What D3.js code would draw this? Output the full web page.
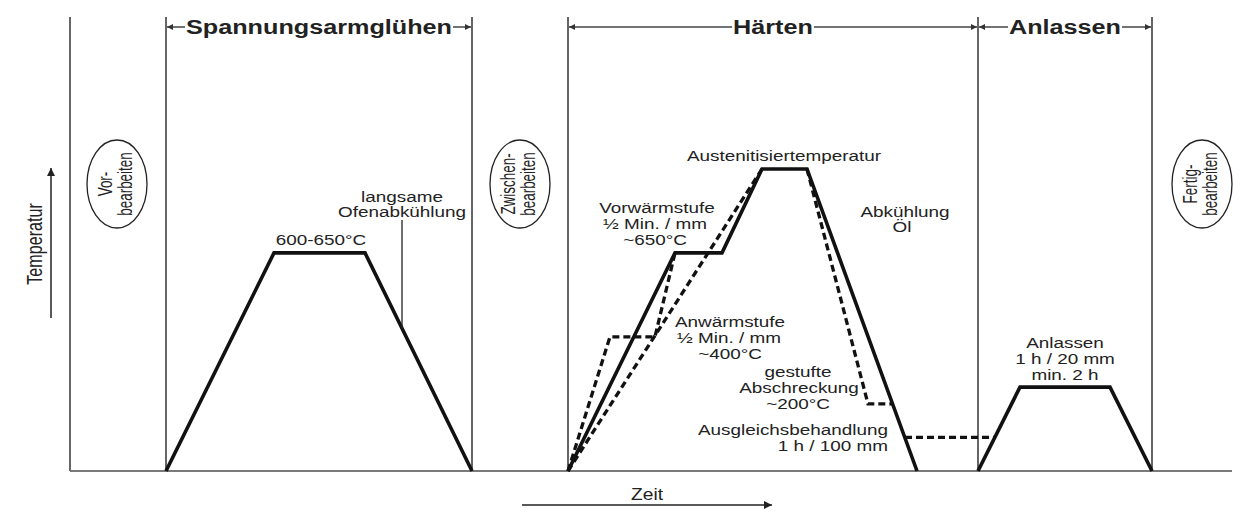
<!DOCTYPE html>
<html>
<head>
<meta charset="utf-8">
<script src="https://cdn.jsdelivr.net/npm/d3@7"></script>
<style>
  html, body { margin: 0; padding: 0; background: #fff; }
  svg { display: block; }
  text { font-family: "Liberation Sans", Arial, Helvetica, sans-serif; fill: #222; }
</style>
</head>
<body>
<svg id="chart" width="1257" height="530"></svg>
<script>
// ---------- data (time in arbitrary units, temperature in °C) ----------
const sectionBounds = [0, 96, 402, 498, 908, 1082];
const axisEnd = 1162;
const phaseNames = ["Spannungsarmglühen", "Härten", "Anlassen"];
const phaseStart = [96, 498, 908];
const phaseEnd = [402, 908, 1082];

const stressRelief = [[96, 0], [204, 650], [295, 650], [402, 0]];
const hardeningSolid = [[498, 0], [605, 650], [652, 650], [692, 900], [737, 900], [847, 0]];
const preheatDashed = [[498, 0], [540, 400], [585, 400], [605, 650]];
const directDashed = [[498, 0], [692, 900]];
const quenchDashed = [[737, 900], [798, 200], [822, 200]];
const equalizeDashed = [[835, 100], [925, 100]];
const tempering = [[908, 0], [950, 250], [1040, 250], [1082, 0]];
const leader = [[332, 748], [332, 425]];

const stepNames = [["Vor-", "bearbeiten"], ["Zwischen-", "bearbeiten"], ["Fertig-", "bearbeiten"]];
const stepTimes = [47, 450, 1132];

// ---------- layout ----------
const svg = d3.select("#chart");
const x = d3.scaleLinear().domain([0, axisEnd]).range([70, 1232]);
const y = d3.scaleLinear().domain([0, 900]).range([471, 169]);
const topY = 17;
const SX = 1.26;
const line = d3.line().x(d => x(d[0])).y(d => y(d[1]));

const defs = svg.append("defs");
function marker(id, color, w, h) {
  defs.append("marker").attr("id", id)
    .attr("viewBox", "0 0 10 10").attr("refX", 10).attr("refY", 5)
    .attr("markerWidth", w).attr("markerHeight", h)
    .attr("markerUnits", "userSpaceOnUse")
    .attr("orient", "auto-start-reverse")
    .append("path").attr("d", "M0,0 L10,5 L0,10 Z").attr("fill", color);
}
marker("arrHead", "#333", 9, 6);
marker("arrAxis", "#222", 10, 8);

// baseline
svg.append("line").attr("x1", x(0)).attr("x2", x(axisEnd))
  .attr("y1", y(0)).attr("y2", y(0))
  .attr("stroke", "#7a7a7a").attr("stroke-width", 2);

// section vertical lines
svg.selectAll("line.sec").data(sectionBounds).join("line").attr("class", "sec")
  .attr("x1", d => x(d)).attr("x2", d => x(d))
  .attr("y1", topY).attr("y2", y(0))
  .attr("stroke", "#666").attr("stroke-width", 2);

// helper for horizontally stretched text
function htext(str, px, py, size, opts = {}) {
  return svg.append("text")
    .attr("transform", `translate(${px},${py}) scale(${opts.sx || SX},1)`)
    .attr("text-anchor", opts.anchor || "middle")
    .attr("font-size", size)
    .attr("font-weight", opts.bold ? "bold" : "normal")
    .text(str);
}

// phase headers
const headY = 27;
phaseNames.forEach((name, i) => {
  const x0 = x(phaseStart[i]), x1 = x(phaseEnd[i]);
  const cx = (x0 + x1) / 2;
  const t = htext(name, cx, 34, 21, { bold: true, sx: 1.2 });
  const w = t.node().getBBox().width * 1.2;
  const pad = 1;
  svg.append("line").attr("x1", cx - w / 2 - pad).attr("x2", x0 + 1)
    .attr("y1", headY).attr("y2", headY)
    .attr("stroke", "#444").attr("stroke-width", 1.5)
    .attr("marker-end", "url(#arrHead)");
  svg.append("line").attr("x1", cx + w / 2 + pad).attr("x2", x1 - 1)
    .attr("y1", headY).attr("y2", headY)
    .attr("stroke", "#444").attr("stroke-width", 1.5)
    .attr("marker-end", "url(#arrHead)");
});

// ellipses with rotated text
stepNames.forEach((lines, i) => {
  const cx = x(stepTimes[i]), cy = 184;
  svg.append("ellipse").attr("cx", cx).attr("cy", cy).attr("rx", 30).attr("ry", 44)
    .attr("fill", "none").attr("stroke", "#222").attr("stroke-width", 1.3);
  const offs = [-5, 15];
  lines.forEach((s, j) => {
    svg.append("text")
      .attr("transform", `translate(${cx + offs[j]},${cy}) rotate(-90) scale(0.84,1.22)`)
      .attr("text-anchor", "middle").attr("font-size", 16).text(s);
  });
});

// axis labels
svg.append("text")
  .attr("transform", `translate(42,244) rotate(-90) scale(0.95,1.25)`)
  .attr("text-anchor", "middle").attr("font-size", 17).text("Temperatur");
svg.append("line").attr("x1", 51).attr("x2", 51).attr("y1", 318).attr("y2", 168)
  .attr("stroke", "#222").attr("stroke-width", 1.5).attr("marker-end", "url(#arrAxis)");
htext("Zeit", 647, 500, 16, { sx: 1.2 });
svg.append("line").attr("x1", 522).attr("x2", 772).attr("y1", 505).attr("y2", 505)
  .attr("stroke", "#222").attr("stroke-width", 1.5).attr("marker-end", "url(#arrAxis)");

// curves
const solidStyle = s => s.attr("fill", "none").attr("stroke", "#111")
  .attr("stroke-width", 3.6).attr("stroke-linejoin", "miter");
const dashStyle = s => s.attr("fill", "none").attr("stroke", "#111")
  .attr("stroke-width", 3.3).attr("stroke-dasharray", "7,4");

[directDashed, preheatDashed, quenchDashed, equalizeDashed].forEach(d =>
  svg.append("path").attr("d", line(d)).call(dashStyle));
[stressRelief, hardeningSolid, tempering].forEach(d =>
  svg.append("path").attr("d", line(d)).call(solidStyle));
svg.append("path").attr("d", line(leader)).attr("stroke", "#222").attr("stroke-width", 1.3).attr("fill", "none");

// annotations
const fs = 15;
htext("600-650°C", 321, 245, fs);
htext("langsame", 402, 202, fs);
htext("Ofenabkühlung", 402, 217, fs);
htext("Austenitisiertemperatur", 784, 161, fs);
htext("Vorwärmstufe", 657, 213, fs);
htext("½ Min. / mm", 655, 229, fs);
htext("~650°C", 655, 245, fs);
htext("Anwärmstufe", 730, 327, fs);
htext("½ Min. / mm", 729, 343, fs);
htext("~400°C", 730, 359, fs);
htext("Abkühlung", 905, 217, fs);
htext("Öl", 902, 232, fs);
htext("gestufte", 798, 377, fs);
htext("Abschreckung", 799, 393, fs);
htext("~200°C", 798, 409, fs);
htext("Ausgleichsbehandlung", 888, 435, fs, { anchor: "end" });
htext("1 h / 100 mm", 888, 451, fs, { anchor: "end" });
htext("Anlassen", 1065, 348, fs);
htext("1 h / 20 mm", 1065, 364, fs);
htext("min. 2 h", 1065, 380, fs);
</script>
</body>
</html>
